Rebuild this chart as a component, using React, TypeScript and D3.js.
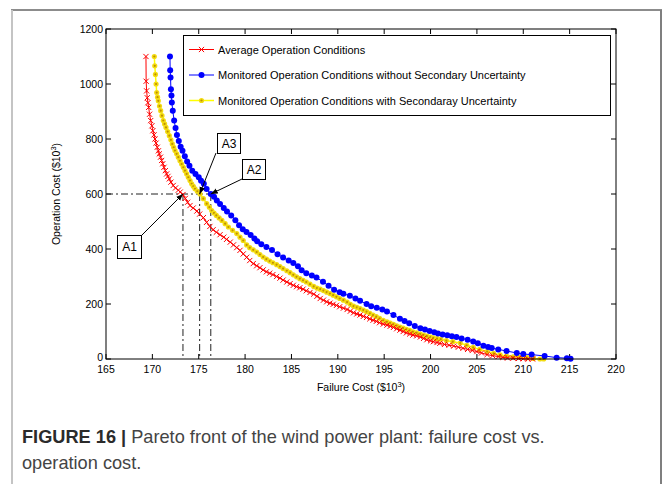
import React from 'react';
import * as d3 from 'd3';

const xTicks = [165, 170, 175, 180, 185, 190, 195, 200, 205, 210, 215, 220];
const yTicks = [0, 200, 400, 600, 800, 1000, 1200];

const seriesNames = [
  'Average Operation Conditions',
  'Monitored Operation Conditions without Secondary Uncertainty',
  'Monitored Operation Conditions with Secondaray Uncertainty',
];

const avgFailure = [169.31,169.33,169.38,169.45,169.52,169.6,169.7,169.82,169.95,170.05,170.18,170.28,170.4,170.53,170.65,170.75,170.88,171.0,171.12,171.25,171.4,171.54,171.68,171.83,172.0,172.25,172.5,172.8,173.0,173.3,173.55,173.8,174.06,174.4,174.8,175.1,175.5,175.85,176.2,176.55,176.9,177.3,177.7,178.0,178.4,178.75,179.1,179.45,179.8,180.17,180.5,180.88,181.25,181.6,181.95,182.3,182.65,183.0,183.4,183.76,184.1,184.5,184.85,185.2,185.55,185.9,186.25,186.6,187.0,187.4,187.75,188.1,188.45,188.8,189.15,189.5,189.85,190.2,190.6,191.0,191.35,191.7,192.05,192.4,192.75,193.1,193.45,193.8,194.15,194.5,194.9,195.3,195.65,196.0,196.35,196.7,197.05,197.4,197.75,198.1,198.5,198.9,199.25,199.6,200.0,200.3,200.7,201.0,201.5,202.0,202.5,203.0,203.5,204.0,204.5,205.0,205.5,206.1,206.7,207.3,207.8,208.3,208.9,209.5,210.0,210.5,211.0];
const avgCost = [1100,1010,975,950,932,915,890,867,848,830,815,800,785,770,757,746,734,722,710,697,685,673,664,655,643,631,622,614,607,598,584,570,558,549,538,527,514,497,482,470,461,452,443,435,425,415,405,395,382,370,358,347,339,332,324,317,312,307,300,294,287,280,274,268,263,259,254,248,242,236,228,220,214,208,203,199,195,190,185,180,174,168,164,160,155,151,146,141,137,132,127,123,119,115,110,105,100,95,91,87,84,80,75,70,66,63,60,57,53,50,47,43,39,35,31,27,22,16,12,9,6,4,3,2,1,0,0];

const noSecFailure = [171.9,171.92,171.96,172.0,172.06,172.1,172.2,172.35,172.5,172.65,172.85,173.05,173.25,173.5,173.75,174.0,174.3,174.65,175.0,175.25,175.55,175.85,176.3,176.65,176.95,177.3,177.7,178.05,178.5,178.95,179.35,179.75,180.15,180.6,181.0,181.3,181.75,182.3,182.9,183.5,184.1,184.7,185.2,185.7,186.1,186.6,187.2,187.7,188.4,189.0,189.6,190.2,190.6,191.3,191.9,192.4,193.1,193.6,194.2,194.8,195.3,196.0,196.7,197.2,197.7,198.3,198.9,199.4,199.9,200.4,200.8,201.3,201.8,202.3,202.8,203.35,204.0,204.6,205.1,205.7,206.2,206.6,207.3,208.2,209.3,210.0,210.9,212.3,213.6,214.7,215.1];
const noSecCost = [1100,1050,1024,981,958,933,903,867,840,815,793,772,757,737,718,703,685,673,661,648,637,618,600,590,576,564,549,536,522,505,486,472,462,451,438,428,417,407,396,381,369,358,349,337,323,312,304,296,281,266,252,243,237,230,220,212,200,192,186,180,173,160,146,138,130,120,112,107,102,97,93,89,86,83,80,75,70,64,57,48,44,40,35,29,22,18,16,11,5,3,1];

const withSecFailure = [170.21,170.26,170.33,170.4,170.47,170.56,170.64,170.77,170.9,171.04,171.18,171.32,171.47,171.65,171.83,172.0,172.15,172.3,172.44,172.62,172.8,172.98,173.16,173.34,173.52,173.7,173.88,174.06,174.24,174.42,174.6,174.85,175.14,175.5,175.86,176.15,176.4,176.65,176.9,177.2,177.5,177.85,178.2,178.65,179.1,179.45,179.8,180.17,180.5,180.88,181.25,181.6,181.95,182.3,182.65,183.0,183.4,183.76,184.1,184.5,184.85,185.2,185.55,185.9,186.25,186.6,187.0,187.4,187.75,188.1,188.45,188.8,189.15,189.5,189.85,190.2,190.6,191.0,191.35,191.7,192.05,192.4,192.75,193.1,193.45,193.8,194.15,194.5,194.9,195.3,195.65,196.0,196.35,196.7,197.05,197.4,197.75,198.1,198.5,198.9,199.25,199.6,200.0,200.3,200.7,201.1,201.7,202.4,203.2,203.9,204.6,205.3,206.1,206.8,207.5,208.2,208.9,209.6,210.4,211.1,211.8,212.2];
const withSecCost = [1100,1066,1035,1000,969,952,939,920,903,885,867,855,842,827,812,797,782,770,758,746,734,721,709,697,685,673,661,649,637,628,619,610,600,583,565,552,540,531,522,513,504,492,480,468,456,443,431,415,405,397,389,380,371,363,356,350,343,336,329,321,314,306,299,292,286,280,272,264,258,254,249,243,238,232,226,220,214,207,199,192,188,183,178,172,166,160,154,148,141,135,131,126,121,116,112,108,104,99,95,91,87,83,80,77,74,72,67,63,58,50,42,35,27,21,15,11,8,6,5,2,0,0];

const annotationLabels = ['A1', 'A3', 'A2'];
const annotationFailure = [173.3, 175.1, 176.3];
const annotationCost = [600, 600, 600];

const RED = '#ff0000';
const BLUE = '#0000ff';
const YEL = '#ffff00';
const YEL_FILL = '#f3dc10';
const YEL_DOT = '#c09000';
const FONT = "'Liberation Sans', Arial, Helvetica, sans-serif";

const W = 664, H = 484;
const L = 106, R = 616, T = 29, B = 359;

export default function App() {
  const x = d3.scaleLinear().domain([165, 220]).range([L, R]);
  const y = d3.scaleLinear().domain([0, 1200]).range([B, T]);
  const line = d3.line<[number, number]>().x(d => x(d[0])).y(d => y(d[1]));
  const zip = (a: number[], b: number[]) => a.map((v, i) => [v, b[i]] as [number, number]);
  const avg = zip(avgFailure, avgCost);
  const noSec = zip(noSecFailure, noSecCost);
  const withSec = zip(withSecFailure, withSecCost);

  const xMark = (cx: number, cy: number, k: string, s = 2.6) => (
    <path key={k} d={`M${cx - s},${cy - s}L${cx + s},${cy + s}M${cx - s},${cy + s}L${cx + s},${cy - s}`} stroke={RED} strokeWidth={1} fill="none" />
  );
  const blueMark = (cx: number, cy: number, k: string) => <circle key={k} cx={cx} cy={cy} r={3} fill={BLUE} />;
  const yelMark = (cx: number, cy: number, k: string) => (
    <g key={k}>
      <circle cx={cx} cy={cy} r={2.6} fill={YEL_FILL} />
      <circle cx={cx} cy={cy} r={1.1} fill={YEL_DOT} />
    </g>
  );

  const tickLen = 5;
  const dashDot = '7,3,2,3';
  const ax = annotationFailure.map(v => x(v));
  const ay = annotationCost.map(v => y(v));
  const boxes = [
    { bx: 117, by: 235, bw: 24, bh: 23, sx: 141, sy: 236 },
    { bx: 217, by: 133, bw: 23, bh: 20, sx: 216, sy: 153 },
    { bx: 242, by: 159, bw: 23, bh: 20, sx: 242, sy: 179 },
  ];

  const legendY = [49.5, 75, 100.5];

  return (
    <svg width={W} height={H} style={{ position: 'absolute', left: 0, top: 0, background: '#fff' }} fontFamily={FONT}>
      <defs>
        <marker id="ah" viewBox="0 0 10 10" refX="10" refY="5" markerWidth="7" markerHeight="7" orient="auto-start-reverse" markerUnits="userSpaceOnUse">
          <path d="M0,1L10,5L0,9z" fill="#000" />
        </marker>
      </defs>
      <rect x={0} y={0} width={W} height={H} fill="#fff" />
      <line x1={11} y1={10} x2={662} y2={10} stroke="#8c8c8c" strokeWidth={2} />
      <line x1={12} y1={10} x2={12} y2={H} stroke="#c4c4c4" strokeWidth={2} />
      <line x1={661} y1={10} x2={661} y2={H} stroke="#7f7f7f" strokeWidth={2} />

      {xTicks.map(t => (
        <g key={'xt' + t}>
          <line x1={x(t)} x2={x(t)} y1={B} y2={B - tickLen} stroke="#000" />
          <line x1={x(t)} x2={x(t)} y1={T} y2={T + tickLen} stroke="#000" />
          <text x={x(t)} y={B + 13.5} textAnchor="middle" fontSize={10.5} fill="#000">{t}</text>
        </g>
      ))}
      {yTicks.map(t => (
        <g key={'yt' + t}>
          <line x1={L} x2={L + tickLen} y1={y(t)} y2={y(t)} stroke="#000" />
          <line x1={R} x2={R - tickLen} y1={y(t)} y2={y(t)} stroke="#000" />
          <text x={L - 3} y={y(t) + (t === 0 ? 1.5 : 3.8)} textAnchor="end" fontSize={10.5} fill="#000">{t}</text>
        </g>
      ))}

      <line x1={L} x2={d3.max(ax) as number} y1={ay[0]} y2={ay[0]} stroke="#222" strokeWidth={1} strokeDasharray={dashDot} />
      {ax.map((px, i) => (
        <line key={'v' + i} x1={px} x2={px} y1={ay[i]} y2={B} stroke="#222" strokeWidth={1} strokeDasharray={dashDot} />
      ))}

      <path d={line(withSec) || ''} fill="none" stroke={YEL} strokeWidth={1.5} />
      {withSec.map((d, i) => yelMark(x(d[0]), y(d[1]), 'y' + i))}
      <path d={line(avg) || ''} fill="none" stroke={RED} strokeWidth={1} />
      {avg.map((d, i) => xMark(x(d[0]), y(d[1]), 'r' + i))}
      <path d={line(noSec) || ''} fill="none" stroke={BLUE} strokeWidth={1} />
      {noSec.map((d, i) => blueMark(x(d[0]), y(d[1]), 'b' + i))}

      {boxes.map((b, i) => (
        <g key={'a' + i}>
          <line x1={b.sx} y1={b.sy} x2={ax[i]} y2={ay[i]} stroke="#000" strokeWidth={1} markerEnd="url(#ah)" />
          <rect x={b.bx + 0.5} y={b.by + 0.5} width={b.bw} height={b.bh} fill="#fff" stroke="#000" strokeWidth={1} />
          <text x={b.bx + 0.5 + b.bw / 2} y={b.by + b.bh / 2 + 4.5} textAnchor="middle" fontSize={12} fill="#000">{annotationLabels[i]}</text>
        </g>
      ))}

      <rect x={L} y={T} width={R - L} height={B - T} fill="none" stroke="#000" strokeWidth={1} />

      <rect x={183.5} y={35.5} width={427} height={80} fill="#fff" stroke="#000" strokeWidth={1} />
      {seriesNames.map((n, i) => {
        const ly = legendY[i];
        const col = [RED, BLUE, YEL][i];
        return (
          <g key={'lg' + i}>
            <line x1={189} x2={214} y1={ly} y2={ly} stroke={col} strokeWidth={i === 2 ? 1.5 : 1} />
            {i === 0 ? xMark(201.5, ly, 'lx') : i === 1 ? blueMark(201.5, ly, 'lb') : yelMark(201.5, ly, 'ly')}
            <text x={218} y={ly + 4} fontSize={11} fill="#000">{n}</text>
          </g>
        );
      })}

      <text x={(L + R) / 2} y={391} textAnchor="middle" fontSize={10.5} fill="#000">
        Failure Cost ($10<tspan dy={-4} fontSize={7.5}>3</tspan><tspan dy={4}>)</tspan>
      </text>
      <text transform={`translate(60,${(T + B) / 2}) rotate(-90)`} textAnchor="middle" fontSize={10.5} fill="#000">
        Operation Cost ($10<tspan dy={-4} fontSize={7.5}>3</tspan><tspan dy={4}>)</tspan>
      </text>

      <text x={22} y={443} fontSize={18.2} fill="#444" fontFamily="'Liberation Sans', Arial, sans-serif">
        <tspan fontWeight="bold" fill="#2b2b2b">FIGURE 16 | </tspan>Pareto front of the wind power plant: failure cost vs.
      </text>
      <text x={22} y={469} fontSize={18.2} fill="#444" fontFamily="'Liberation Sans', Arial, sans-serif">operation cost.</text>
    </svg>
  );
}
